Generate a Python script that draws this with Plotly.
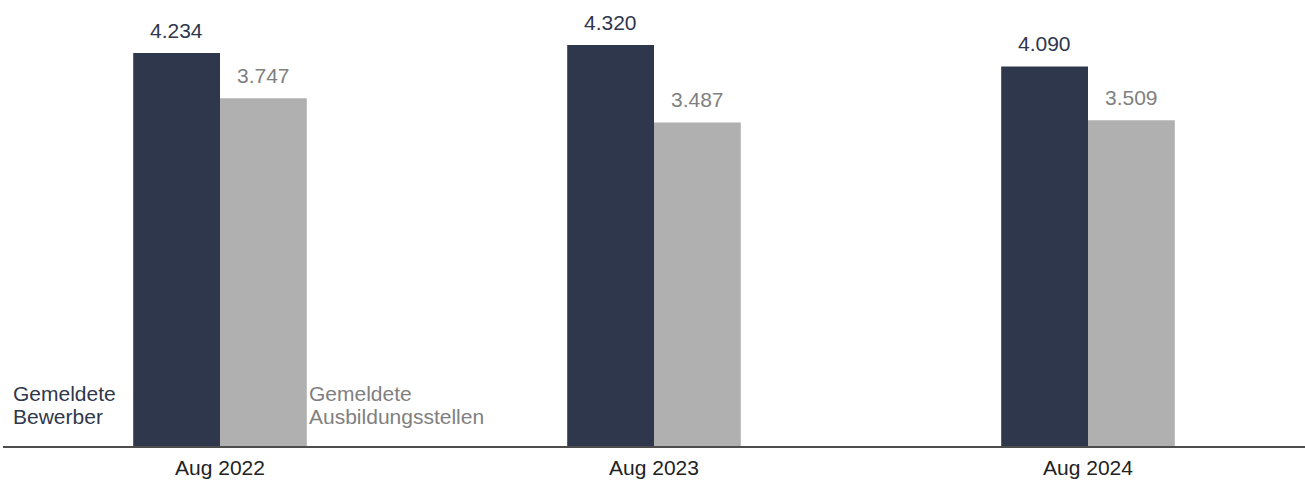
import plotly.graph_objects as go

categories = ["Aug 2022", "Aug 2023", "Aug 2024"]
bewerber = [4234, 4320, 4090]
stellen = [3747, 3487, 3509]
bewerber_labels = ["4.234", "4.320", "4.090"]
stellen_labels = ["3.747", "3.487", "3.509"]

DARK = "#2f374c"
GRAY = "#b0b0b0"
GRAY_TXT = "#808080"
FONT = "Liberation Sans, Arial, sans-serif"
FS = 21

xs = list(range(len(categories)))

fig = go.Figure()
fig.add_trace(go.Bar(x=xs, y=bewerber, width=0.2, offset=-0.2,
                     marker=dict(color=DARK, line=dict(width=0)), name="Gemeldete Bewerber"))
fig.add_trace(go.Bar(x=xs, y=stellen, width=0.2, offset=0.0,
                     marker=dict(color=GRAY, line=dict(width=0)), name="Gemeldete Ausbildungsstellen"))

annotations = []
for i in xs:
    annotations.append(dict(x=i - 0.1, y=bewerber[i], xref="x", yref="y", text=bewerber_labels[i],
                            showarrow=False, yanchor="middle", yshift=23,
                            font=dict(family=FONT, size=FS, color=DARK)))
    annotations.append(dict(x=i + 0.1, y=stellen[i], xref="x", yref="y", text=stellen_labels[i],
                            showarrow=False, yanchor="middle", yshift=23,
                            font=dict(family=FONT, size=FS, color=GRAY_TXT)))

# series labels near the first group
annotations.append(dict(x=0, y=0, xref="paper", yref="y", text="Gemeldete", xanchor="left",
                        yanchor="middle", xshift=8, yshift=53, showarrow=False,
                        font=dict(family=FONT, size=FS, color=DARK)))
annotations.append(dict(x=0, y=0, xref="paper", yref="y", text="Bewerber", xanchor="left",
                        yanchor="middle", xshift=8, yshift=30, showarrow=False,
                        font=dict(family=FONT, size=FS, color=DARK)))
annotations.append(dict(x=0.2, y=0, xref="x", yref="y", text="Gemeldete", xanchor="left",
                        yanchor="middle", xshift=0, yshift=53, showarrow=False,
                        font=dict(family=FONT, size=FS, color=GRAY_TXT)))
annotations.append(dict(x=0.2, y=0, xref="x", yref="y", text="Ausbildungsstellen", xanchor="left",
                        yanchor="middle", xshift=0, yshift=30, showarrow=False,
                        font=dict(family=FONT, size=FS, color=GRAY_TXT)))

fig.update_layout(
    width=1305, height=484,
    margin=dict(l=3, r=0, t=10, b=38),
    paper_bgcolor="white", plot_bgcolor="white",
    showlegend=False,
    barmode="overlay",
    annotations=annotations,
    font=dict(family=FONT, size=FS, color="#222222"),
    xaxis=dict(range=[-0.5, 2.5], tickmode="array", tickvals=xs, ticktext=categories,
               showgrid=False, zeroline=False, showline=True, linecolor="#4d4d4d", linewidth=2,
               ticks="", ticklabelstandoff=2,
               tickfont=dict(family=FONT, size=FS, color="#222222"), fixedrange=True),
    yaxis=dict(range=[0, 4698], visible=False, showgrid=False, zeroline=False, fixedrange=True),
)

fig.write_html("out.html", config={"displayModeBar": False},
               post_script="document.body.style.margin='0';document.body.style.overflow='hidden';")
